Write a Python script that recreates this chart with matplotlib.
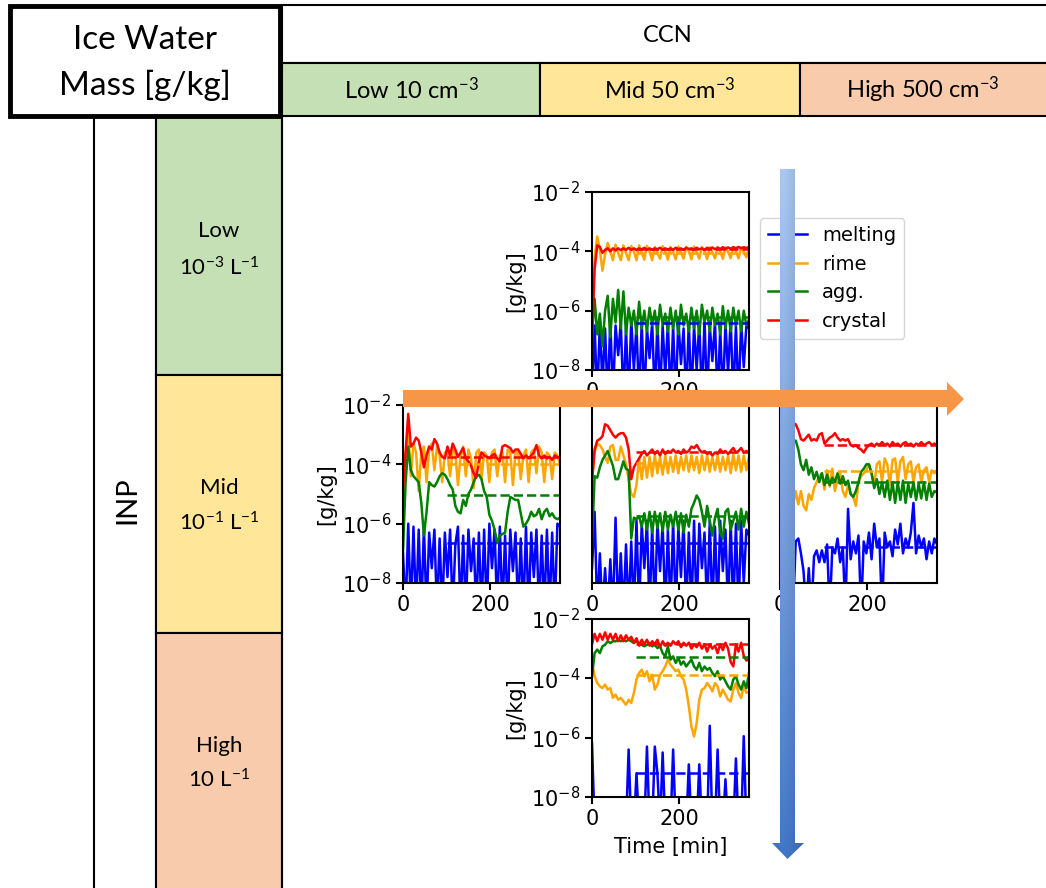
import numpy as np
import matplotlib.pyplot as plt
from matplotlib.patches import Polygon, Rectangle
from matplotlib.ticker import NullLocator

plt.rcParams['font.family'] = 'DejaVu Sans'
plt.rcParams['mathtext.rm'] = 'Lato'
plt.rcParams['mathtext.it'] = 'Lato:italic'
plt.rcParams['mathtext.bf'] = 'Lato:bold'

W, H = 1046, 888

# model output every 6 minutes
time = np.arange(0, 361, 6)
# time window used for the mean (dashed lines)
mean_window = [100, 360]

# log10 of ice water mass [g/kg]; -9 = no mass (below the axis)

# INP low, CCN mid
lo_mid_crystal = [-7.0, -4.6, -3.8, -3.85, -4.05, -3.95, -3.9, -4.0, -3.9, -3.97,
                  -3.9, -3.96, -3.9, -3.95, -3.88, -3.95, -3.9, -3.96, -3.9, -3.94,
                  -3.88, -3.95, -3.9, -3.95, -3.9, -3.93, -3.88, -3.95, -3.9, -3.94,
                  -3.9, -3.95, -3.88, -3.93, -3.9, -3.95, -3.88, -3.92, -3.9, -3.94,
                  -3.88, -3.93, -3.9, -3.95, -3.88, -3.92, -3.87, -3.93, -3.88, -3.92,
                  -3.86, -3.92, -3.87, -3.91, -3.86, -3.9, -3.85, -3.9, -3.86, -3.89,
                  -3.85]
lo_mid_rime = [-6.5, -4.2, -3.5, -3.95, -4.65, -4.1, -3.72, -4.0, -4.3, -3.78,
               -4.05, -4.3, -3.8, -4.05, -4.3, -3.82, -4.0, -4.3, -3.8, -4.05,
               -4.28, -3.82, -4.0, -4.3, -3.85, -4.05, -4.25, -3.83, -4.0, -4.28,
               -3.85, -4.02, -4.27, -3.84, -4.05, -4.25, -3.85, -4.0, -4.27, -3.84,
               -4.03, -4.25, -3.85, -4.0, -4.26, -3.86, -4.02, -4.24, -3.85, -4.0,
               -4.25, -3.86, -4.02, -4.23, -3.85, -4.0, -4.24, -3.86, -4.02, -4.2,
               -3.95]
lo_mid_agg = [-6.8, -5.6, -6.8, -6.1, -7.2, -6.0, -5.5, -6.9, -5.6, -6.4,
              -5.3, -6.6, -5.35, -6.8, -5.9, -6.5, -6.0, -6.8, -5.7, -6.6,
              -6.0, -6.7, -5.9, -6.5, -6.0, -6.8, -5.8, -6.5, -6.1, -6.7,
              -5.9, -6.6, -6.0, -6.8, -5.8, -6.5, -6.1, -6.7, -5.9, -6.6,
              -6.0, -6.8, -5.8, -6.4, -6.0, -6.7, -5.9, -6.5, -6.1, -6.8,
              -5.85, -6.6, -6.0, -6.7, -5.9, -6.5, -6.0, -6.7, -6.0, -6.5,
              -6.3]
lo_mid_melt = [-9.0, -6.5, -9.0, -6.4, -8.5, -6.6, -9.0, -6.3, -9.0, -6.5,
               -7.5, -6.4, -9.0, -6.6, -9.0, -6.3, -8.0, -6.5, -9.0, -6.4,
               -9.0, -6.6, -7.6, -6.4, -9.0, -6.3, -9.0, -6.5, -8.2, -6.4,
               -9.0, -6.5, -9.0, -6.3, -7.8, -6.6, -9.0, -6.4, -9.0, -6.5,
               -8.0, -6.4, -9.0, -6.3, -9.0, -6.5, -7.7, -6.4, -9.0, -6.6,
               -9.0, -6.4, -8.1, -6.3, -9.0, -6.5, -9.0, -6.4, -7.9, -6.5,
               -6.6]
lo_mid_means = [-6.4, -4.05, -6.2, -3.92]

# INP mid, CCN low
mid_lo_crystal = [-4.8, -3.6, -2.3, -3.4, -3.3, -3.1, -3.2, -3.6, -4.1, -3.7,
                  -3.4, -3.5, -3.15, -3.3, -3.6, -3.75, -3.8, -3.4, -3.7, -3.3,
                  -3.5, -3.75, -3.6, -3.45, -3.8, -3.9, -4.05, -4.3, -4.45, -3.9,
                  -3.6, -3.7, -3.75, -3.8, -3.7, -3.65, -3.8, -3.9, -3.4, -3.35,
                  -3.4, -3.45, -3.6, -3.5, -3.5, -3.65, -3.8, -3.7, -3.8, -3.7,
                  -3.6, -3.35, -3.7, -3.8, -3.7, -3.8, -3.75, -3.85, -3.7, -3.75,
                  -3.8]
mid_lo_rime = [-5.0, -3.6, -2.9, -4.4, -3.3, -3.6, -4.9, -3.6, -3.4, -4.6,
               -3.5, -3.3, -4.2, -3.4, -3.7, -4.6, -3.6, -3.6, -4.4, -3.5,
               -3.6, -4.7, -3.7, -3.4, -4.4, -3.5, -3.8, -4.8, -3.6, -3.5,
               -4.5, -3.6, -3.7, -4.6, -3.6, -3.5, -4.4, -3.7, -3.6, -4.6,
               -3.5, -3.6, -4.7, -3.6, -3.6, -4.5, -3.7, -3.5, -4.6, -3.6,
               -3.5, -4.3, -3.4, -3.6, -4.6, -3.6, -3.7, -4.5, -3.6, -3.7,
               -4.0]
mid_lo_agg = [-6.9, -4.6, -3.4, -4.2, -4.4, -4.5, -4.6, -5.3, -6.4, -5.6,
              -4.6, -4.7, -4.75, -4.6, -4.4, -4.3, -4.35, -4.5, -4.7, -4.85,
              -5.4, -5.6, -5.65, -5.2, -5.4, -5.0, -4.85, -4.6, -4.4, -4.35,
              -4.5, -4.9, -5.1, -5.7, -5.9, -6.2, -6.65, -6.4, -6.35, -6.3,
              -5.6, -5.1, -5.15, -5.2, -5.2, -5.65, -6.1, -6.0, -5.85, -5.6,
              -5.75, -5.7, -5.5, -5.85, -5.6, -5.5, -5.75, -5.65, -5.8, -5.85,
              -5.8]
mid_lo_melt = [-7.0, -9.0, -6.0, -9.0, -6.1, -9.0, -6.2, -9.0, -6.1, -9.0,
               -6.3, -7.5, -6.2, -9.0, -6.5, -9.0, -6.3, -7.8, -6.2, -9.0,
               -6.7, -6.1, -9.0, -6.4, -9.0, -6.2, -7.6, -6.5, -9.0, -6.3,
               -9.0, -6.2, -9.0, -6.0, -7.5, -6.2, -9.0, -6.1, -9.0, -6.4,
               -9.0, -6.2, -7.6, -6.3, -9.0, -6.5, -9.0, -6.1, -9.0, -6.3,
               -7.8, -6.2, -9.0, -6.4, -9.0, -6.2, -9.0, -6.3, -9.0, -6.0,
               -6.1]
mid_lo_means = [-6.65, -4.0, -5.05, -3.76]

# INP mid, CCN mid
mid_mid_crystal = [-4.6, -3.5, -3.2, -3.15, -3.05, -2.65, -2.7, -2.85, -3.0, -3.1,
                   -3.0, -2.95, -2.95, -3.1, -3.5, -4.5, -4.1, -3.95, -3.8, -3.65,
                   -3.55, -3.7, -3.6, -3.5, -3.65, -3.55, -3.7, -3.5, -3.65, -3.55,
                   -3.6, -3.5, -3.6, -3.55, -3.65, -3.5, -3.6, -3.55, -3.4, -3.45,
                   -3.35, -3.5, -3.6, -3.55, -3.65, -3.6, -3.7, -3.6, -3.65, -3.5,
                   -3.6, -3.55, -3.65, -3.55, -3.45, -3.6, -3.55, -3.45, -3.6, -3.55,
                   -3.6]
mid_mid_rime = [-4.5, -3.6, -3.3, -3.35, -3.5, -3.75, -3.95, -3.4, -3.35, -3.85,
                -3.85, -3.4, -3.7, -4.0, -4.5, -5.0, -5.1, -4.7, -3.8, -4.5,
                -3.75, -4.45, -3.75, -4.4, -3.7, -4.3, -3.75, -4.35, -3.7, -4.3,
                -3.75, -4.25, -3.7, -4.3, -3.75, -4.2, -3.7, -4.25, -3.7, -4.2,
                -3.75, -4.3, -3.7, -4.2, -3.7, -4.25, -3.75, -4.2, -3.7, -4.25,
                -3.75, -4.2, -3.7, -4.3, -3.65, -4.2, -3.7, -4.25, -3.7, -4.2,
                -3.75]
mid_mid_agg = [-6.6, -4.4, -4.45, -4.1, -3.85, -3.7, -3.55, -3.8, -4.05, -4.5,
               -4.5, -4.2, -3.9, -4.15, -4.2, -6.5, -5.8, -5.85, -5.75, -6.1,
               -5.65, -6.2, -5.6, -6.3, -5.6, -6.15, -5.65, -6.25, -5.6, -6.2,
               -5.7, -6.1, -5.6, -6.2, -5.65, -6.3, -5.7, -6.1, -5.5, -5.3,
               -5.05, -5.2, -5.6, -6.1, -5.4, -5.9, -6.4, -5.8, -5.5, -6.3,
               -6.5, -5.6, -5.5, -6.2, -5.9, -5.6, -6.2, -5.5, -6.1, -5.6,
               -6.0]
mid_mid_melt = [-7.5, -5.6, -9.0, -7.0, -9.0, -7.5, -9.0, -7.2, -9.0, -5.8,
                -9.0, -7.0, -9.0, -6.7, -9.0, -6.6, -9.0, -5.9, -9.0, -6.0,
                -7.5, -5.9, -9.0, -6.1, -9.0, -5.9, -7.6, -6.0, -9.0, -6.2,
                -9.0, -5.9, -9.0, -6.1, -7.8, -5.9, -9.0, -6.3, -9.0, -5.9,
                -9.0, -6.0, -7.5, -6.3, -9.0, -5.9, -9.0, -6.1, -9.0, -5.9,
                -7.6, -6.2, -9.0, -5.9, -9.0, -6.0, -9.0, -5.9, -8.0, -6.2,
                -6.4]
mid_mid_means = [-6.65, -3.95, -5.75, -3.6]

# INP mid, CCN high
mid_hi_crystal = [-2.5, -2.55, -2.6, -2.7, -2.6, -2.6, -2.65, -2.85, -3.15, -3.2,
                  -3.1, -3.0, -3.2, -3.15, -3.2, -3.0, -2.95, -3.3, -3.2, -3.1,
                  -3.05, -2.95, -3.1, -3.2, -3.15, -3.2, -3.15, -3.35, -3.4, -3.35,
                  -3.45, -3.5, -3.6, -3.45, -3.35, -3.3, -3.4, -3.3, -3.35, -3.25,
                  -3.35, -3.3, -3.4, -3.25, -3.35, -3.3, -3.4, -3.3, -3.25, -3.35,
                  -3.3, -3.4, -3.3, -3.35, -3.25, -3.35, -3.3, -3.25, -3.35, -3.3,
                  -3.35]
mid_hi_rime = [-4.0, -4.6, -5.0, -5.3, -5.2, -5.4, -4.9, -5.35, -4.9, -5.4,
               -5.55, -5.0, -5.2, -4.8, -4.6, -4.4, -4.3, -4.85, -4.2, -4.75,
               -4.15, -4.9, -4.5, -4.3, -4.9, -5.1, -4.7, -5.0, -5.1, -5.4,
               -4.6, -4.4, -4.3, -4.2, -4.0, -4.3, -4.7, -4.0, -3.9, -4.6,
               -3.8, -4.0, -4.7, -3.85, -3.8, -4.6, -3.9, -3.75, -4.5, -4.0,
               -3.9, -4.6, -4.1, -4.0, -4.6, -4.2, -4.1, -4.6, -4.2, -4.3,
               -4.2]
mid_hi_agg = [-3.0, -3.1, -3.2, -3.15, -3.2, -3.25, -3.2, -3.5, -4.0, -4.2,
              -3.85, -4.35, -4.1, -4.5, -4.25, -4.6, -4.3, -4.7, -4.35, -4.7,
              -4.45, -4.6, -4.3, -4.65, -4.4, -4.7, -4.55, -5.0, -5.1, -4.9,
              -4.6, -4.25, -4.15, -4.0, -4.0, -4.3, -4.8, -4.5, -5.0, -4.6,
              -5.1, -4.55, -5.2, -4.6, -5.3, -4.6, -5.2, -4.55, -5.3, -4.65,
              -5.1, -4.6, -5.2, -4.65, -5.15, -4.6, -5.2, -4.65, -5.1, -4.9,
              -4.95]
mid_hi_melt = [-7.2, -6.8, -7.0, -9.0, -7.0, -9.0, -6.6, -6.5, -7.0, -7.6,
               -9.0, -7.5, -9.0, -7.1, -6.9, -7.3, -6.9, -7.3, -6.7, -9.0,
               -6.8, -7.0, -6.5, -7.3, -6.8, -9.0, -5.5, -7.2, -6.6, -7.0,
               -6.4, -9.0, -6.6, -7.0, -6.3, -7.2, -6.0, -6.8, -6.5, -9.0,
               -6.3, -6.8, -6.6, -7.1, -6.2, -6.7, -6.0, -7.0, -6.5, -6.8,
               -6.3, -5.3, -7.0, -6.4, -6.8, -6.5, -7.2, -6.6, -7.0, -6.5,
               -6.7]
mid_hi_means = [-6.8, -4.22, -4.6, -3.35]

# INP high, CCN mid
hi_mid_crystal = [-2.85, -2.5, -2.75, -2.5, -2.7, -2.45, -2.7, -2.5, -2.7, -2.5,
                  -2.75, -2.55, -2.75, -2.55, -2.7, -2.6, -2.8, -2.65, -2.9, -2.7,
                  -2.85, -2.7, -2.9, -2.75, -2.85, -2.7, -2.95, -2.75, -2.9, -2.8,
                  -2.9, -2.75, -2.85, -2.75, -2.95, -2.8, -2.9, -2.8, -3.0, -2.85,
                  -2.95, -2.8, -3.0, -2.85, -3.1, -2.85, -3.0, -2.9, -3.15, -2.85,
                  -3.05, -2.8, -3.0, -3.45, -3.6, -2.85, -3.1, -2.8, -3.25, -3.4,
                  -3.35]
hi_mid_rime = [-3.48, -3.93, -4.16, -4.27, -4.33, -4.21, -4.38, -4.33, -4.66, -4.55,
               -4.72, -4.66, -4.78, -4.89, -4.72, -4.83, -4.49, -4.04, -3.82, -3.71,
               -3.93, -3.76, -4.1, -3.88, -4.38, -4.21, -3.88, -3.76, -3.6, -3.37,
               -3.54, -3.65, -3.76, -3.71, -3.93, -4.04, -4.38, -4.94, -5.62, -5.96,
               -5.51, -4.72, -4.38, -4.33, -4.16, -4.27, -4.44, -4.16, -4.27, -4.61,
               -4.38, -4.55, -4.72, -4.78, -4.38, -4.16, -4.49, -4.66, -4.27, -4.49,
               -4.44]
hi_mid_agg = [-3.93, -3.15, -3.03, -3.15, -2.92, -2.87, -2.75, -2.81, -2.75, -2.75,
              -2.7, -2.75, -2.7, -2.75, -2.7, -2.75, -2.81, -2.75, -2.81, -2.87,
              -2.92, -2.87, -2.81, -2.92, -2.87, -2.98, -2.92, -3.15, -3.26, -2.92,
              -3.37, -3.26, -3.48, -3.31, -3.54, -3.43, -3.6, -3.48, -3.37, -3.6,
              -3.71, -3.48, -3.76, -3.6, -3.71, -3.65, -3.82, -3.93, -3.76, -4.04,
              -3.93, -4.1, -4.27, -4.38, -4.04, -3.93, -4.21, -4.38, -4.1, -4.33,
              -3.82]
hi_mid_melt = [-6.2, -9.0, -9.0, -9.0, -9.0, -9.0, -9.0, -9.0, -9.0, -9.0,
               -9.0, -9.0, -9.0, -9.0, -6.4, -9.0, -9.0, -7.2, -9.0, -9.0,
               -9.0, -6.3, -9.0, -9.0, -6.3, -7.2, -9.0, -6.5, -9.0, -9.0,
               -9.0, -6.4, -9.0, -9.0, -9.0, -9.0, -9.0, -6.9, -9.0, -9.0,
               -9.0, -6.9, -9.0, -9.0, -9.0, -5.6, -9.0, -9.0, -6.4, -9.0,
               -9.0, -7.4, -9.0, -9.0, -9.0, -6.7, -9.0, -9.0, -5.95, -9.0,
               -9.0]
hi_mid_means = [-7.19, -3.88, -3.29, -2.84]

labels = ['melting', 'rime', 'agg.', 'crystal']
colors = ['blue', 'orange', 'green', 'red']

fig = plt.figure(figsize=(W / 100, H / 100), dpi=100)


def px_rect(x0, y0, x1, y1):
    return [x0 / W, 1 - y1 / H, (x1 - x0) / W, (y1 - y0) / H]


# ---- table in the background ----
bg = fig.add_axes([0, 0, 1, 1], zorder=-1)
bg.set_xlim(0, W)
bg.set_ylim(H, 0)
bg.axis('off')

green_c, yellow_c, peach_c = '#C5E0B4', '#FFE699', '#F8CBAD'
cells = [(282, 5, 770, 58, 'white'),
         (282, 63, 258, 53, green_c), (540, 63, 260, 53, yellow_c), (800, 63, 252, 53, peach_c),
         (94, 116, 62, 780, 'white'),
         (156, 116, 126, 259, green_c), (156, 375, 126, 258, yellow_c), (156, 633, 126, 262, peach_c)]
for x0, y0, w, h, c in cells:
    bg.add_patch(Rectangle((x0, y0), w, h, facecolor=c, edgecolor='black', lw=1.5))
bg.plot([282, 282], [116, 895], color='black', lw=1.5)
bg.add_patch(Rectangle((10, 6), 270, 110, facecolor='white', edgecolor='black', lw=3.5))

tkw = dict(fontfamily='Lato', math_fontfamily='custom', ha='center', va='center', color='black')
bg.text(145, 40, 'Ice Water', fontsize=24, **tkw)
bg.text(145, 85, 'Mass [g/kg]', fontsize=24, **tkw)
bg.text(668, 36, 'CCN', fontsize=17, **tkw)
bg.text(411, 90, r'Low 10 cm$^{-3}$', fontsize=17, **tkw)
bg.text(670, 90, r'Mid 50 cm$^{-3}$', fontsize=17, **tkw)
bg.text(923, 90, r'High 500 cm$^{-3}$', fontsize=17, **tkw)
bg.text(127, 500, 'INP', fontsize=21, rotation=90, **tkw)
bg.text(219, 231, 'Low', fontsize=16, **tkw)
bg.text(219, 268, r'10$^{-3}$ L$^{-1}$', fontsize=16, **tkw)
bg.text(219, 488, 'Mid', fontsize=16, **tkw)
bg.text(219, 523, r'10$^{-1}$ L$^{-1}$', fontsize=16, **tkw)
bg.text(219, 746, 'High', fontsize=16, **tkw)
bg.text(219, 780, r'10 L$^{-1}$', fontsize=16, **tkw)


# ---- time series panels ----
def panel(rect, series, means, yticklabels=True, ylabel=True, xlabel=False):
    ax = fig.add_axes(rect)
    for s, c, lab in zip(series, colors, labels):
        ax.plot(time, 10.0 ** np.array(s), color=c, lw=1.8, label=lab)
    for m, c in zip(means, colors):
        ax.plot(mean_window, [10.0 ** m, 10.0 ** m], color=c, lw=1.8, ls='--')
    ax.set_yscale('log')
    ax.set_ylim(1e-8, 1e-2)
    ax.set_xlim(0, 360)
    ax.set_yticks([1e-8, 1e-6, 1e-4, 1e-2])
    ax.yaxis.set_minor_locator(NullLocator())
    ax.set_xticks([0, 200])
    ax.tick_params(labelsize=15, length=5, width=1.5)
    if not yticklabels:
        ax.tick_params(axis='y', left=False, labelleft=False)
    for sp in ax.spines.values():
        sp.set_linewidth(1.5)
    if ylabel:
        ax.set_ylabel('[g/kg]', fontsize=15)
    if xlabel:
        ax.set_xlabel('Time [min]', fontsize=15, labelpad=6)
    return ax


ax_top = panel(px_rect(592, 192, 749, 370),
               [lo_mid_melt, lo_mid_rime, lo_mid_agg, lo_mid_crystal], lo_mid_means)
panel(px_rect(403, 405, 560, 583),
      [mid_lo_melt, mid_lo_rime, mid_lo_agg, mid_lo_crystal], mid_lo_means)
panel(px_rect(592, 405, 749, 583),
      [mid_mid_melt, mid_mid_rime, mid_mid_agg, mid_mid_crystal], mid_mid_means,
      yticklabels=False, ylabel=False)
panel(px_rect(780, 405, 937, 583),
      [mid_hi_melt, mid_hi_rime, mid_hi_agg, mid_hi_crystal], mid_hi_means,
      yticklabels=False, ylabel=False)
panel(px_rect(592, 619, 749, 797),
      [hi_mid_melt, hi_mid_rime, hi_mid_agg, hi_mid_crystal], hi_mid_means,
      xlabel=True)

handles = ax_top.get_lines()[:4]
fig.legend(handles, labels, loc='upper left', bbox_to_anchor=(760 / W, 1 - 218 / H),
           fontsize=14, borderaxespad=0, handlelength=2.0)

# ---- arrows on top ----
ov = fig.add_axes([0, 0, 1, 1], zorder=10)
ov.set_xlim(0, W)
ov.set_ylim(H, 0)
ov.axis('off')
ov.patch.set_alpha(0)

orange_arrow = Polygon([(403, 390), (947, 390), (947, 382), (964, 399),
                        (947, 416), (947, 407), (403, 407)],
                       closed=True, facecolor='#F79646', edgecolor='none')
ov.add_patch(orange_arrow)

blue_pts = [(780, 169), (795, 169), (795, 843), (804, 843), (787.5, 859),
            (772, 843), (780, 843)]
blue_arrow = Polygon(blue_pts, closed=True, facecolor='none', edgecolor='none')
ov.add_patch(blue_arrow)
v = np.linspace(0, 1, 300)[:, None, None]
h = np.linspace(0, 1, 40)[None, :, None]
top_c = np.array([0.67, 0.79, 0.96])
bot_c = np.array([0.26, 0.47, 0.79])
grad = top_c * (1 - v) + bot_c * v
grad = grad * (1.0 - 0.22 * np.abs(h - 0.35))
im = ov.imshow(np.clip(grad, 0, 1), extent=(772, 804, 859, 169), origin='upper',
               aspect='auto', interpolation='bilinear')
im.set_clip_path(blue_arrow)
ov.set_xlim(0, W)
ov.set_ylim(H, 0)

fig.savefig('out.png', dpi=100)
